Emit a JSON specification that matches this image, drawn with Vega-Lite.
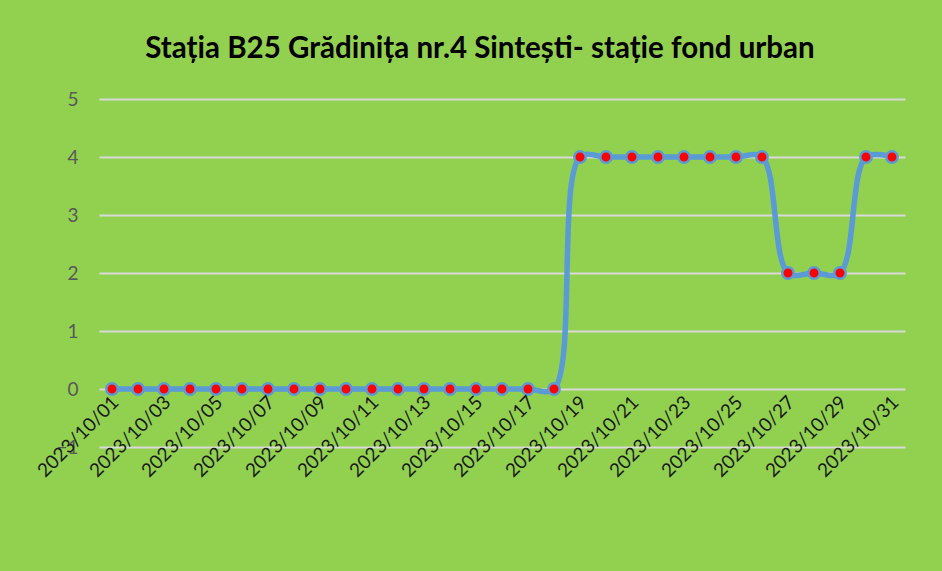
{
  "$schema": "https://vega.github.io/schema/vega-lite/v6.json",
  "width": 806,
  "height": 348,
  "autosize": {"type": "none"},
  "padding": {"left": 99, "top": 99, "right": 37, "bottom": 124},
  "background": "#92D050",
  "title": {
    "text": "Stația B25 Grădinița nr.4  Sintești- stație fond urban",
    "font": "Lato",
    "fontSize": 29.5,
    "fontWeight": "bold",
    "color": "#000000",
    "anchor": "middle",
    "dx": -22,
    "offset": 26
  },
  "config": {
    "view": {"stroke": null},
    "axis": {"labelFont": "Lato", "labelFontSize": 19}
  },
  "data": {
    "values": [
      {"date": "2023/10/01", "value": 0},
      {"date": "2023/10/02", "value": 0},
      {"date": "2023/10/03", "value": 0},
      {"date": "2023/10/04", "value": 0},
      {"date": "2023/10/05", "value": 0},
      {"date": "2023/10/06", "value": 0},
      {"date": "2023/10/07", "value": 0},
      {"date": "2023/10/08", "value": 0},
      {"date": "2023/10/09", "value": 0},
      {"date": "2023/10/10", "value": 0},
      {"date": "2023/10/11", "value": 0},
      {"date": "2023/10/12", "value": 0},
      {"date": "2023/10/13", "value": 0},
      {"date": "2023/10/14", "value": 0},
      {"date": "2023/10/15", "value": 0},
      {"date": "2023/10/16", "value": 0},
      {"date": "2023/10/17", "value": 0},
      {"date": "2023/10/18", "value": 0},
      {"date": "2023/10/19", "value": 4},
      {"date": "2023/10/20", "value": 4},
      {"date": "2023/10/21", "value": 4},
      {"date": "2023/10/22", "value": 4},
      {"date": "2023/10/23", "value": 4},
      {"date": "2023/10/24", "value": 4},
      {"date": "2023/10/25", "value": 4},
      {"date": "2023/10/26", "value": 4},
      {"date": "2023/10/27", "value": 2},
      {"date": "2023/10/28", "value": 2},
      {"date": "2023/10/29", "value": 2},
      {"date": "2023/10/30", "value": 4},
      {"date": "2023/10/31", "value": 4}
    ]
  },
  "encoding": {
    "x": {
      "field": "date",
      "type": "ordinal",
      "sort": null,
      "scale": {"type": "point", "padding": 0.5},
      "axis": {
        "title": null,
        "values": ["2023/10/01","2023/10/03","2023/10/05","2023/10/07","2023/10/09","2023/10/11","2023/10/13","2023/10/15","2023/10/17","2023/10/19","2023/10/21","2023/10/23","2023/10/25","2023/10/27","2023/10/29","2023/10/31"],
        "labelAngle": -45,
        "labelAlign": "right",
        "labelBaseline": "middle",
        "labelColor": "#1a1a1a",
        "labelPadding": 10,
        "labelOffset": 3,
        "labelOverlap": false,
        "domain": false,
        "ticks": false,
        "grid": false,
        "offset": -58,
        "zindex": 1
      }
    },
    "y": {
      "field": "value",
      "type": "quantitative",
      "scale": {"domain": [-1, 5], "nice": false, "zero": false},
      "axis": {
        "title": null,
        "values": [-1, 0, 1, 2, 3, 4, 5],
        "labelColor": "#595959",
        "labelPadding": 21,
        "domain": false,
        "ticks": false,
        "gridColor": "#D9D9D9",
        "gridWidth": 2
      }
    }
  },
  "layer": [
    {
      "mark": {"type": "line", "interpolate": "catmull-rom", "color": "#5B9BD5", "strokeWidth": 5.5}
    },
    {
      "mark": {"type": "point", "filled": true, "fill": "#FF0000", "stroke": "#5B9BD5", "strokeWidth": 2.5, "size": 130, "opacity": 1}
    }
  ]
}
